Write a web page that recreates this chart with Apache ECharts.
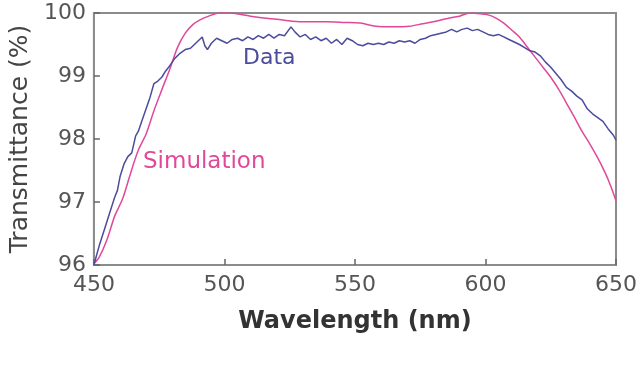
<!DOCTYPE html>
<html>
<head>
<meta charset="utf-8">
<script src="https://cdn.jsdelivr.net/npm/echarts@6/dist/echarts.min.js"></script>
<style>
html,body{margin:0;padding:0;background:#fff;}
#chart{width:640px;height:368px;}
</style>
</head>
<body>
<div id="chart"></div>
<script>
// x ticks / y ticks
var xTicks = [450, 500, 550, 600, 650];
var yTicks = [96, 97, 98, 99, 100];

// simulation curve (wavelength nm, transmittance %)
var simX = [450,452,455,458,461,464,467,470,473,476,479,482,485,488,491,494,498,502,506,510,515,520,526,532,539,546,552,558,564,571,576,580,585,590,594,598,601,604,607,610,613,616,619,622,625,628,631,634,637,640,643,646,648,650];
var simY = [96.02,96.12,96.40,96.78,97.05,97.45,97.82,98.08,98.45,98.78,99.10,99.45,99.68,99.82,99.90,99.95,100.0,100.0,99.98,99.95,99.92,99.90,99.87,99.86,99.86,99.85,99.84,99.79,99.78,99.79,99.83,99.86,99.91,99.95,100.0,99.99,99.97,99.92,99.84,99.73,99.62,99.46,99.30,99.14,98.98,98.79,98.57,98.35,98.12,97.92,97.70,97.45,97.25,97.02];

// measured data
var dataX = [450,451,452,454,456,458,459,460,461.5,463,464.5,466,467,468.5,470,471.5,473,474.5,476,477.5,479,481,483,485,487,488.5,490,491.5,492.5,493.5,495,497,499,501,503,505,507,509,511,513,515,517,519,521,523,525.5,527,529,531,533,535,537,539,541,543,545,547,549,551,553,555,557,559,561,563,565,567,569,571,573,575,577,579,581,583,585,587,589,591,593,595,597,599,601,603,605,607,609,611,613,615,617,619,621,623,625,627,629,631,633,635,637,639,641,643,645,647,649,650];
var dataY = [96.00,96.15,96.30,96.56,96.82,97.08,97.18,97.40,97.60,97.72,97.78,98.05,98.12,98.30,98.48,98.66,98.88,98.92,98.98,99.08,99.16,99.28,99.36,99.42,99.44,99.50,99.56,99.62,99.48,99.42,99.52,99.60,99.56,99.52,99.58,99.60,99.56,99.62,99.58,99.64,99.60,99.66,99.60,99.66,99.64,99.78,99.70,99.62,99.66,99.58,99.62,99.56,99.60,99.52,99.58,99.50,99.60,99.56,99.50,99.48,99.52,99.50,99.52,99.50,99.54,99.52,99.56,99.54,99.56,99.52,99.58,99.60,99.64,99.66,99.68,99.70,99.74,99.70,99.74,99.76,99.72,99.74,99.70,99.66,99.64,99.66,99.62,99.58,99.54,99.50,99.45,99.40,99.38,99.32,99.22,99.14,99.04,98.94,98.82,98.76,98.68,98.62,98.48,98.40,98.34,98.28,98.16,98.06,97.98];

function pairs(xs, ys){
	var out = [];
	for(var i = 0; i < xs.length; i++){
		out.push([xs[i], ys[i]]);
	}
	return out;
}

var myChart = echarts.init(document.getElementById('chart'));
var font = 'DejaVu Sans';
var axisGray = '#8c8c8c';

var option = {
	animation: false,
	backgroundColor: '#fff',
	grid: { left: 91, right: 22, top: 13, bottom: 103, show: true, borderColor: axisGray, borderWidth: 2 },
	xAxis: {
		type: 'value', min: xTicks[0], max: xTicks[xTicks.length-1], interval: 50,
		name: 'Wavelength (nm)', nameLocation: 'middle', nameGap: 45,
		nameTextStyle: { fontFamily: font, fontSize: 24, color: '#333', fontWeight: 'bold' },
		axisLine: { lineStyle: { color: axisGray, width: 2 } },
		axisTick: { inside: true, length: 6, lineStyle: { color: '#666', width: 1.5 } },
		axisLabel: { margin: 9, fontFamily: font, fontSize: 22, color: '#555', showMinLabel: true, showMaxLabel: true },
		splitLine: { show: false }
	},
	yAxis: {
		type: 'value', min: yTicks[0], max: yTicks[yTicks.length-1], interval: 1,
		name: 'Transmittance (%)', nameLocation: 'middle', nameGap: 58,
		nameTextStyle: { fontFamily: font, fontSize: 25, color: '#444' },
		axisLine: { show: true, lineStyle: { color: axisGray, width: 2 } },
		axisTick: { show: true, inside: true, length: 6, lineStyle: { color: '#666', width: 1.5 } },
		axisLabel: { margin: 8, fontFamily: font, fontSize: 22, color: '#555' },
		splitLine: { show: false }
	},
	series: [
		{
			name: 'Simulation', type: 'line', showSymbol: false, smooth: 0.3,
			lineStyle: { color: '#e0489a', width: 1.5 },
			data: pairs(simX, simY)
		},
		{
			name: 'Data', type: 'line', showSymbol: false,
			lineStyle: { color: '#4b4c9c', width: 1.5 },
			data: pairs(dataX, dataY)
		}
	],
	graphic: [
		{ type: 'text', left: 243, top: 47, style: { text: 'Data', fontFamily: font, fontSize: 22, fill: '#4b4c9c' } },
		{ type: 'text', left: 143, top: 151, style: { text: 'Simulation', fontFamily: font, fontSize: 23, fill: '#e0489a' } }
	]
};
myChart.setOption(option);
</script>
</body>
</html>
